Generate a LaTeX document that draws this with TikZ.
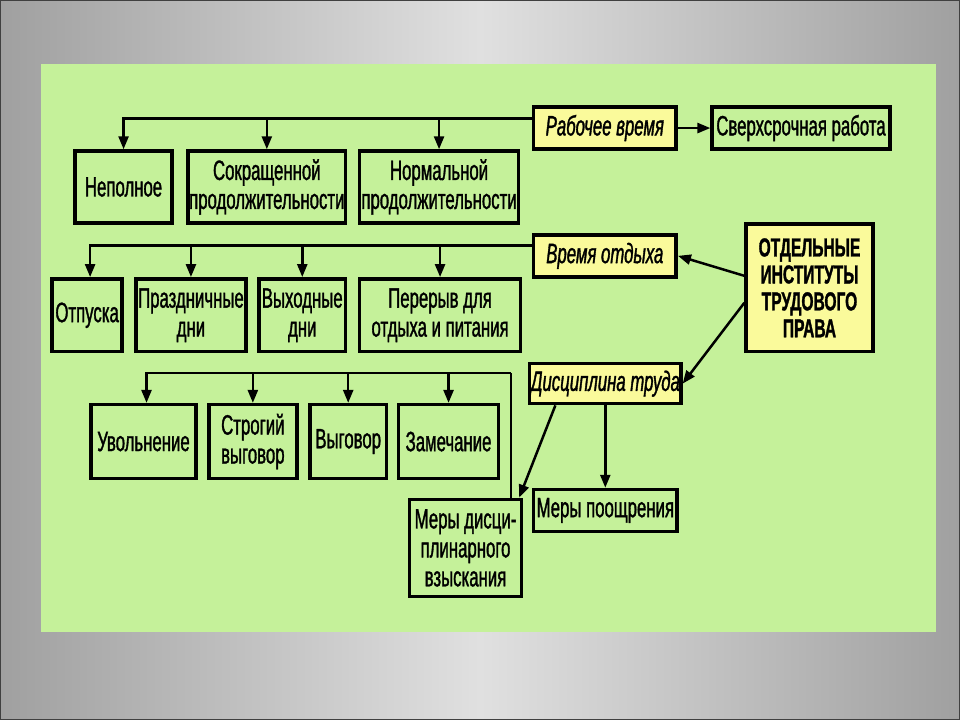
\documentclass[tikz,border=0pt]{standalone}
\usepackage{fontspec}
\usepackage{tikz}
\usetikzlibrary{arrows.meta}
\newfontfamily\narrowsans[FakeStretch=0.6,FakeBold=1.2]{Liberation Sans}
\definecolor{panelgreen}{RGB}{197,241,154}
\definecolor{topicyellow}{RGB}{250,250,155}
\definecolor{slideedge}{RGB}{160,160,160}
\definecolor{slidemid}{RGB}{224,224,224}
\tikzstyle{plain box}=[draw,line width=3.5pt,fill=panelgreen,align=center,inner sep=1pt,
  font=\narrowsans\fontsize{28}{29}\selectfont]
\tikzstyle{topic box}=[plain box,fill=topicyellow,font=\narrowsans\itshape\fontsize{28}{29}\selectfont]
\tikzstyle{branch edge}=[-{Triangle[length=13pt,width=10pt]},line width=2.5pt]
\tikzstyle{plain edge}=[line width=2.5pt]
\newcommand{\lawnode}[3][]{
  \node [#1] (#2) {#3}
}

\begin{document}
\begin{tikzpicture}[x=1pt,y=-1pt]
  \shade[left color=slideedge,right color=slideedge,middle color=slidemid] (0,0) rectangle (960,720);
  \draw[line width=1.5pt,black!75] (0,0) rectangle (960,720);
  \useasboundingbox (0,0) rectangle (960,720);
  \fill[panelgreen] (40,63) rectangle (937,632);

  % working time
  \lawnode[topic box,minimum width=143,minimum height=42,at={(605,127.5)}]{rabvr}{Рабочее время};
  \lawnode[plain box,minimum width=178,minimum height=42,at={(801.5,127.5)}]{sverh}{Сверхсрочная работа};
  \lawnode[plain box,minimum width=97,minimum height=72,at={(123,186.5)}]{nepoln}{Неполное};
  \lawnode[plain box,minimum width=158,minimum height=72,at={(266.5,186.5)}]{sokr}{Сокращенной\\продолжительности};
  \lawnode[plain box,minimum width=159,minimum height=72,at={(439,186.5)}]{norm}{Нормальной\\продолжительности};

  % rest time
  \lawnode[topic box,minimum width=143,minimum height=42,at={(605,255.5)}]{otdyh}{Время отдыха};
  \lawnode[plain box,minimum width=70,minimum height=73,at={(86.5,315)}]{otpusk}{Отпуска};
  \lawnode[plain box,minimum width=110,minimum height=73,at={(190.5,315)}]{prazd}{Праздничные\\дни};
  \lawnode[plain box,minimum width=87,minimum height=73,at={(302,315)}]{vyh}{Выходные\\дни};
  \lawnode[plain box,minimum width=161,minimum height=73,at={(440,315)}]{pereryv}{Перерыв для\\отдыха и питания};

  \lawnode[plain box,fill=topicyellow,font=\narrowsans\bfseries\fontsize{26}{27}\selectfont,
    minimum width=127,minimum height=128,at={(810,287.5)}]{inst}{ОТДЕЛЬНЫЕ\\ИНСТИТУТЫ\\ТРУДОВОГО\\ПРАВА};

  % labour discipline
  \lawnode[topic box,minimum width=144,minimum height=40,at={(605.5,383.5)}]{discip}{Дисциплина труда};
  \lawnode[plain box,minimum width=105,minimum height=74,at={(143,441.5)}]{uvol}{Увольнение};
  \lawnode[plain box,minimum width=88,minimum height=74,at={(252.5,441.5)}]{strog}{Строгий\\выговор};
  \lawnode[plain box,minimum width=77,minimum height=74,at={(348,441.5)}]{vygov}{Выговор};
  \lawnode[plain box,minimum width=100,minimum height=74,at={(448.5,441.5)}]{zamech}{Замечание};
  \lawnode[plain box,minimum width=112,minimum height=97,at={(465.5,548)}]{meryvz}{Меры дисци-\\плинарного\\взыскания};
  \lawnode[plain box,minimum width=144,minimum height=42,at={(605.5,510.5)}]{merypoo}{Меры поощрения};

  \coordinate (rab line) at ([yshift=9.5pt]rabvr.west);
  \coordinate (otd line) at ([yshift=10.5pt]otdyh.west);
  \coordinate (vz foot) at ([xshift=-12pt]meryvz.north east);
  \coordinate (vz line) at (vz foot |- 0,373);

  \draw[branch edge] (rab line) -| (nepoln.north);
  \draw[branch edge] (rab line -| sokr.north) -- (sokr.north);
  \draw[branch edge] (rab line -| norm.north) -- (norm.north);
  \draw[branch edge] (rabvr.east) -- (sverh.west);

  \draw[branch edge] (otd line) -| ([xshift=3pt]otpusk.north);
  \draw[branch edge] (otd line -| prazd.north) -- (prazd.north);
  \draw[branch edge] (otd line -| vyh.north) -- (vyh.north);
  \draw[branch edge] (otd line -| pereryv.north) -- (pereryv.north);

  \draw[plain edge] (vz foot) -- (vz line);
  \draw[branch edge] (vz line) -| ([xshift=3pt]uvol.north);
  \draw[branch edge] (vz line -| strog.north) -- (strog.north);
  \draw[branch edge] (vz line -| vygov.north) -- (vygov.north);
  \draw[branch edge] (vz line -| zamech.north) -- (zamech.north);

  \draw[branch edge] ([yshift=12pt]inst.west) -- (otdyh.east);
  \draw[branch edge] ([yshift=-15pt]inst.west) -- (discip.east);
  \draw[branch edge] ([xshift=-50pt]discip.south) -- ([xshift=-4pt]meryvz.north east);
  \draw[branch edge] (discip.south) -- (merypoo.north);
\end{tikzpicture}
\end{document}
